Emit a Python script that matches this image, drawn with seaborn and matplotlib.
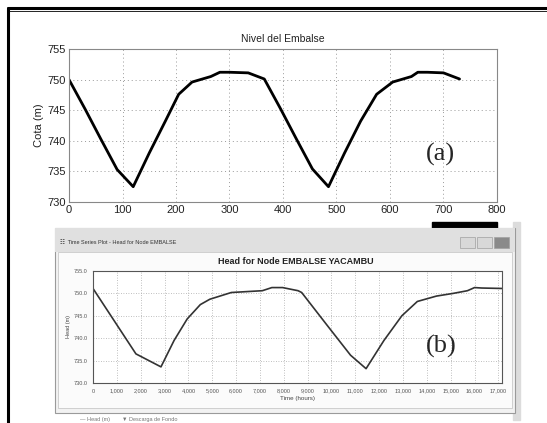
import matplotlib
matplotlib.use("Agg")
import matplotlib.pyplot as plt
import matplotlib.patches as mpatches
import pandas as pd
import seaborn as sns

# (a) Nivel del embalse, días
dias = [0, 30, 60, 90, 120, 150, 180, 205, 230, 265, 282, 300, 335, 365,
        395, 425, 455, 485, 515, 545, 575, 605, 640, 652, 670, 700, 730]
cota = [750.0, 745.2, 740.2, 735.3, 732.5, 738.0, 743.2, 747.6, 749.6, 750.5, 751.2, 751.2, 751.1, 750.1,
        745.3, 740.3, 735.4, 732.5, 738.0, 743.2, 747.6, 749.6, 750.5, 751.2, 751.2, 751.1, 750.1]

# (b) EPANET head, hours
horas = [0, 900, 1800, 2850, 3400, 3950, 4500, 4900, 5800, 7100, 7500, 7950, 8600, 8750,
         9800, 10800, 11450, 12200, 12950, 13600, 14400, 15100, 15700, 16000, 16300, 17150]
head = [751.1, 743.8, 736.5, 733.6, 739.5, 744.3, 747.5, 748.7, 750.2, 750.6, 751.3, 751.3, 750.6, 750.2,
        743.0, 736.2, 733.2, 739.5, 745.0, 748.2, 749.4, 750.0, 750.6, 751.3, 751.2, 751.1]

xticks_b = list(range(0, 18000, 1000))
xlabels_b = ["0"] + [f"{v:,}" for v in xticks_b[1:]]

sns.set_style("white")
plt.rcParams["font.family"] = ["Liberation Sans", "DejaVu Sans"]

W, H = 547, 423
fig = plt.figure(figsize=(W / 100, H / 100), dpi=100)


def fx(px):
    return px / W


def fy(py):
    return 1 - py / H


# outer frame
fig.add_artist(plt.Line2D([fx(8), fx(547)], [fy(8), fy(8)], color="black", lw=2.2))
fig.add_artist(plt.Line2D([fx(8), fx(547)], [fy(11), fy(11)], color="black", lw=0.6))
fig.add_artist(plt.Line2D([fx(8), fx(8)], [fy(8), fy(423)], color="black", lw=2.2))

# ---- top plot (a)
ax1 = fig.add_axes([fx(69), fy(202), fx(497 - 69), (202 - 49) / H])
df_a = pd.DataFrame({"dia": dias, "cota": cota})
sns.lineplot(data=df_a, x="dia", y="cota", ax=ax1, color="black", lw=2, estimator=None)
ax1.set_xlim(0, 800)
ax1.set_ylim(730, 755)
ax1.set_xticks(range(0, 900, 100))
ax1.set_yticks(range(730, 760, 5))
ax1.grid(True, linestyle=(0, (1, 3)), color="#999999", lw=0.7)
ax1.tick_params(direction="in", length=3, labelsize=8, colors="#333333", pad=2)
ax1.tick_params(axis="both", labelcolor="#222222")
for s in ax1.spines.values():
    s.set_color("#888888")
    s.set_linewidth(0.8)
ax1.set_xlabel("")
ax1.set_ylabel("Cota (m)", fontsize=8, color="#222222", labelpad=3)
ax1.set_title("Nivel del Embalse", fontsize=7.5, color="#222222", pad=5)
ax1.text(0.868, 0.31, "(a)", transform=ax1.transAxes, fontsize=19,
         family=["Liberation Serif", "DejaVu Serif"], ha="center", va="center")

# ---- window (b)
fig.add_artist(mpatches.Rectangle((fx(432), fy(232)), fx(65), 10 / H, color="black"))
fig.add_artist(mpatches.Rectangle((fx(513), fy(420)), fx(7), 198 / H, color="#dcdcdc"))
fig.add_artist(mpatches.Rectangle((fx(55), fy(413)), fx(460), 185 / H,
                                  facecolor="#f2f2f2", edgecolor="#9a9a9a", lw=0.8))
fig.add_artist(mpatches.Rectangle((fx(55), fy(252)), fx(460), 24 / H,
                                  facecolor="#e0e0e0", edgecolor="none"))
fig.add_artist(mpatches.Rectangle((fx(58), fy(408)), fx(454), 156 / H,
                                  facecolor="#fbfbfb", edgecolor="#c0c0c0", lw=0.5))
for bx, bw, col in [(460, 15, "#d8d8d8"), (477, 15, "#d8d8d8"), (494, 15, "#8a8a8a")]:
    fig.add_artist(mpatches.Rectangle((fx(bx), fy(248)), fx(bw), 11 / H,
                                      facecolor=col, edgecolor="#a0a0a0", lw=0.5))
fig.text(fx(60), fy(242), "\u2637  Time Series Plot - Head for Node EMBALSE", fontsize=4,
         color="#333333", va="center")
fig.text(fx(296), fy(262), "Head for Node EMBALSE YACAMBU", fontsize=6.5, weight="bold",
         color="#222222", ha="center", va="center")

ax2 = fig.add_axes([fx(93), fy(383), fx(502 - 93), (383 - 271) / H])
ax2.set_zorder(5)
df_b = pd.DataFrame({"hora": horas, "head": head})
sns.lineplot(data=df_b, x="hora", y="head", ax=ax2, color="#333333", lw=1.2, estimator=None)
ax2.set_xlim(0, 17150)
ax2.set_ylim(730, 755)
ax2.set_xticks(xticks_b)
ax2.set_xticklabels(xlabels_b)
ax2.set_yticks(range(730, 760, 5))
ax2.set_yticklabels([f"{v:.1f}" for v in range(730, 760, 5)])
ax2.grid(True, linestyle=(0, (1, 2)), color="#aaaaaa", lw=0.6)
ax2.tick_params(direction="out", length=2, labelsize=4, colors="#555555", pad=2)
for s in ax2.spines.values():
    s.set_color("#555555")
    s.set_linewidth(0.8)
ax2.spines["top"].set_linestyle((0, (2, 1)))
ax2.spines["right"].set_linestyle((0, (2, 1)))
ax2.set_xlabel("Time (hours)", fontsize=4.5, color="#444444", labelpad=2)
ax2.set_ylabel("Head (m)", fontsize=4, color="#444444", labelpad=2)
ax2.text(0.851, 0.33, "(b)", transform=ax2.transAxes, fontsize=19,
         family=["Liberation Serif", "DejaVu Serif"], ha="center", va="center")

fig.text(fx(80), fy(419), "\u2014 Head (m)        \u25bc Descarga de Fondo", fontsize=4,
         color="#777777", va="center")

fig.savefig("out.png", dpi=100)
